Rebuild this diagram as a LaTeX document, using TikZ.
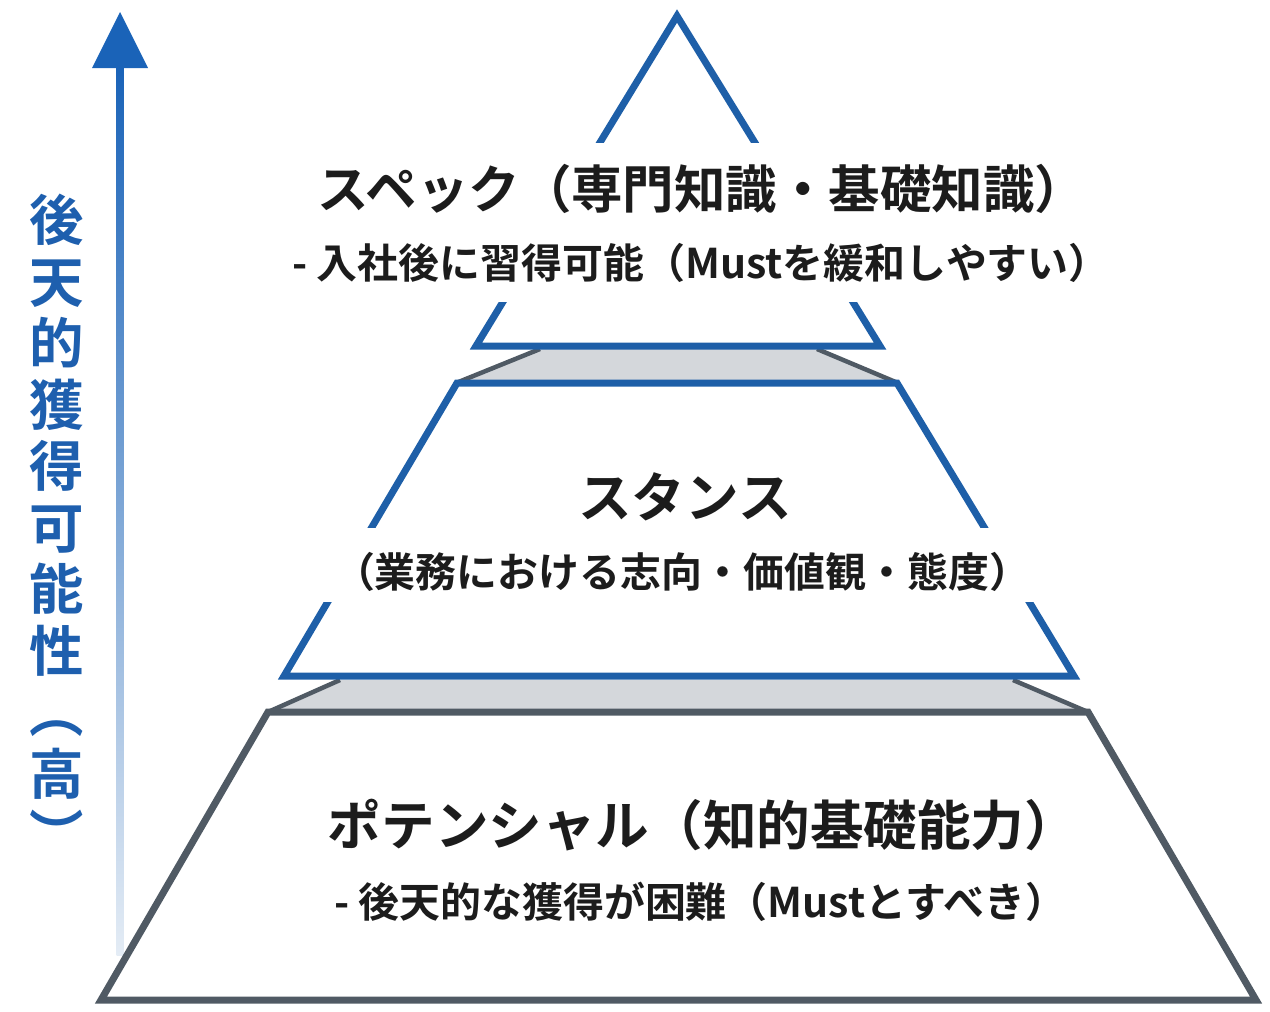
\documentclass[tikz,border=0pt]{standalone}
\usepackage{fontspec}
\newfontfamily\jp{Noto Sans CJK JP}
\newfontfamily\jpb{Noto Sans CJK JP Bold}
\begin{document}
\begin{tikzpicture}[x=0.02cm,y=-0.02cm,
  blueline/.style={draw=pyblue,line width=0.14cm,line join=miter},
  grayline/.style={draw=pygray,line width=0.14cm,line join=miter},
  band/.style={fill=bandgray,draw=none},
  bandside/.style={draw=pygray,line width=0.09cm},
  textbg/.style={fill=white,draw=none},
  title/.style={font=\jpb\fontsize{30.5}{34}\selectfont,text=txt,inner sep=0pt},
  sub/.style={font=\jpb\fontsize{23.3}{27}\selectfont,text=txt,inner sep=0pt},
  vlabel/.style={font=\jpb\fontsize{31}{35}\selectfont,text=vblue,align=center,inner sep=0pt}]
\definecolor{pyblue}{HTML}{1E5FA8}
\definecolor{pygray}{HTML}{505A64}
\definecolor{bandgray}{HTML}{D4D7DB}
\definecolor{txt}{HTML}{1C1C1C}
\definecolor{vblue}{HTML}{1E5FAE}
\definecolor{arrowblue}{HTML}{1A63B8}
\definecolor{arrowfade}{HTML}{E4ECF5}
\useasboundingbox (0,0) rectangle (1270,1011);
% arrow axis
\shade[bottom color=arrowfade,top color=arrowblue] (116.5,955) rectangle (123.5,66);
\fill[arrowblue] (120,12) -- (92,68) -- (148,68) -- cycle;
\node[vlabel] (axislabel) at (57,525) {後\\天\\的\\獲\\得\\可\\能\\性\\︵\\高\\︶};
% bands
\fill[band] (540,349) -- (817,349) -- (898,383) -- (456,383) -- cycle;
\draw[bandside] (540,349) -- (456,383) (817,349) -- (898,383);
\fill[band] (340,680) -- (1013,680) -- (1088,712) -- (268,712) -- cycle;
\draw[bandside] (340,680) -- (268,712) (1013,680) -- (1088,712);
% layers
\draw[blueline] (677,16) -- (880,346) -- (476,346) -- cycle;
\draw[blueline] (457,383) -- (897,383) -- (1074,676) -- (284,676) -- cycle;
\draw[grayline] (268,712) -- (1088,712) -- (1256,1000) -- (101,1000) -- cycle;
% white backgrounds behind the texts
\fill[textbg] (280,143) rectangle (1105,302);
\fill[textbg] (300,528) rectangle (1060,602);
% texts
\node[title,font=\jpb\fontsize{29.3}{33}\selectfont] (t1) at (702,189) {スペック（専門知識・基礎知識）};
\node[sub] (s1) at (701,263) {- 入社後に習得可能（Mustを緩和しやすい）};
\node[title] (t2) at (685,497) {スタンス};
\node[sub] (s2) at (682,572) {（業務における志向・価値観・態度）};
\node[title] (t3) at (703,825) {ポテンシャル（知的基礎能力）};
\node[sub] (s3) at (700,902) {- 後天的な獲得が困難（Mustとすべき）};
\end{tikzpicture}
\end{document}
